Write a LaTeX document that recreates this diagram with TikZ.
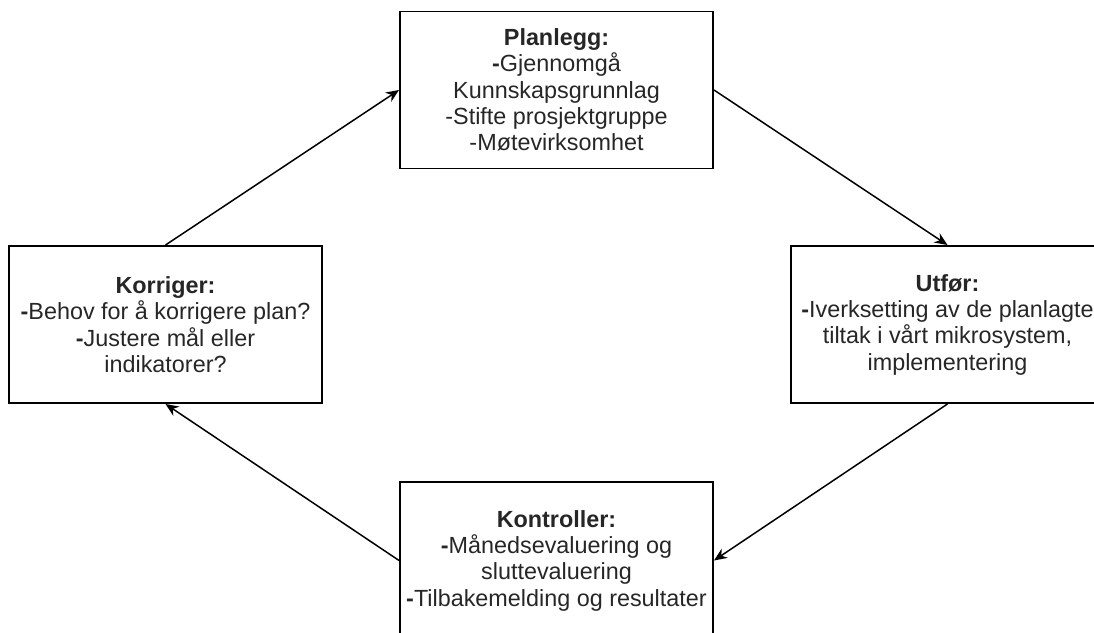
\documentclass[tikz,border=0pt]{standalone}
\usepackage{fontspec}
\setmainfont{Liberation Sans}
\usetikzlibrary{positioning, arrows.meta}

\begin{document}
\begin{tikzpicture}[
                box/.style={rectangle, draw, line width=1.1pt, minimum width=6.26cm, minimum height=3.14cm,
                            align=center, text=black!85, font=\fontsize{13.3}{15}\selectfont},
                ->, >={Stealth[length=2.6mm, width=2.2mm]}, line width=0.85pt
                ]
                \useasboundingbox (0,0) rectangle (21.88,12.64);
                % Define the nodes
                \node (plan) [box] at (11.13,10.84) {\textbf{Planlegg:}\\\textbf{-}Gjennomgå\\Kunnskapsgrunnlag\\-Stifte prosjektgruppe\\-Møtevirksomhet};
                \node (utf) [box] at (18.95,6.15) {\textbf{Utfør:}\\\textbf{-}Iverksetting av de planlagte\\tiltak i vårt mikrosystem,\\implementering};
                \node (kont) [box] at (11.13,1.43) {\textbf{Kontroller:}\\\textbf{-}Månedsevaluering og\\sluttevaluering\\\textbf{-}Tilbakemelding og resultater};
                \node (korr) [box] at (3.31,6.15) {\textbf{Korriger:}\\\textbf{-}Behov for å korrigere plan?\\\textbf{-}Justere mål eller\\indikatorer?};

                % Draw the arrows
                \draw (korr.north) -- (plan.west);
                \draw (plan.east) -- (utf.north);
                \draw (utf.south) -- (kont.east);
                \draw (kont.west) -- (korr.south);
            \end{tikzpicture}
\end{document}
